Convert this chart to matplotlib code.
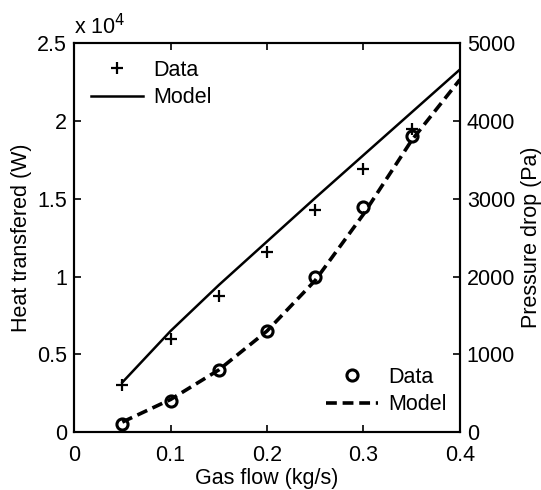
import matplotlib
matplotlib.use("Agg")
import matplotlib.pyplot as plt
from matplotlib.ticker import FuncFormatter
import numpy as np

plt.rcParams['font.family'] = ['Liberation Sans', 'DejaVu Sans']
plt.rcParams['font.size'] = 15.5

# heat transfer (left axis, W)
flow_data = [0.05, 0.10, 0.15, 0.20, 0.25, 0.30, 0.35]
heat_data = [3000, 6000, 8750, 11600, 14300, 16900, 19500]
flow_model = [0.05, 0.10, 0.15, 0.20, 0.25, 0.30, 0.35, 0.40]
heat_model = [3200, 6500, 9450, 12250, 15050, 17800, 20550, 23300]

# pressure drop (right axis, Pa)
dp_data = [100, 400, 800, 1300, 2000, 2900, 3800]
dp_model = [130, 420, 800, 1300, 1950, 2800, 3750, 4530]

fig = plt.figure(figsize=(5.41, 4.90), dpi=100)
ax = fig.add_axes([0.137, 0.118, 0.713, 0.794])
ax2 = ax.twinx()

h1, = ax.plot(flow_data, heat_data, 'k+', ms=9, mew=1.6, label='Data')
h2, = ax.plot(flow_model, heat_model, 'k-', lw=1.8, label='Model')
h3, = ax2.plot(flow_data, dp_data, 'ko', ms=8, mfc='none', mew=2.2, label='Data')
h4, = ax2.plot(flow_model, dp_model, 'k--', lw=2.6, dashes=(3, 1.6), label='Model')

ax.set_xlim(0, 0.4)
ax.set_ylim(0, 25000)
ax2.set_ylim(0, 5000)
ax.set_xticks([0, 0.1, 0.2, 0.3, 0.4])
ax.set_xticklabels(['0', '0.1', '0.2', '0.3', '0.4'])
ax.set_yticks([0, 5000, 10000, 15000, 20000, 25000])
ax.yaxis.set_major_formatter(FuncFormatter(lambda v, p: f"{v/1e4:g}"))
ax2.set_yticks([0, 1000, 2000, 3000, 4000, 5000])

ax.tick_params(direction='in', top=True, length=5, width=1.2, pad=5)
ax.tick_params(axis='x', pad=9)
ax2.tick_params(direction='in', length=5, width=1.2, pad=5)
for a in (ax, ax2):
    for s in a.spines.values():
        s.set_linewidth(1.5)

ax.set_xlabel('Gas flow (kg/s)', labelpad=2)
ax.set_ylabel('Heat transfered (W)', labelpad=4)
ax2.set_ylabel('Pressure drop (Pa)', labelpad=4)
ax.text(0.0, 1.01, 'x 10$^4$', transform=ax.transAxes, ha='left', va='bottom')

ax.legend(handles=[h1, h2], loc='upper left', frameon=False,
          bbox_to_anchor=(0.01, 0.99), handlelength=2.4, borderaxespad=0.2,
          labelspacing=0.3, handletextpad=0.5)
ax2.legend(handles=[h3, h4], loc='lower right', frameon=False,
           bbox_to_anchor=(1.0, 0.01), handlelength=2.4, borderaxespad=0.2,
           labelspacing=0.3, handletextpad=0.5)

fig.savefig('out.png', dpi=100)
